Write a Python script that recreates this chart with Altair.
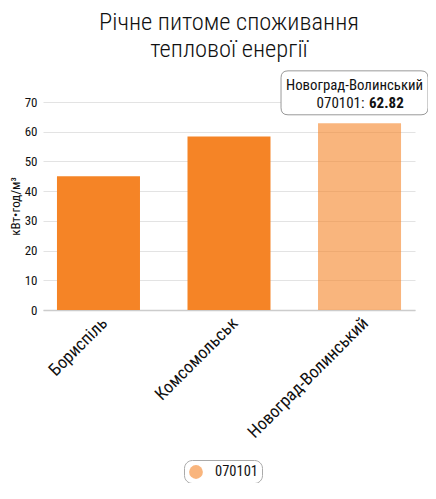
import altair as alt
import pandas as pd

cities = ["Бориспіль", "Комсомольськ", "Новоград-Волинський"]
values = [45.0, 58.4, 62.82]
series = "070101"
highlight = "Новоград-Волинський"
y_ticks = [0, 10, 20, 30, 40, 50, 60, 70]

df = pd.DataFrame({"city": cities, "value": values, "series": [series] * len(cities)})

FONT = "Roboto Condensed, DejaVu Sans Condensed, sans-serif"
DARK = "#F58426"

xenc = alt.X(
    "city:N",
    sort=cities,
    title=None,
    scale=alt.Scale(paddingInner=0.364, paddingOuter=0.107),
    axis=alt.Axis(labelAngle=-45, labelFontSize=17.5, labelColor="#111", labelPadding=4,
                  ticks=False, domainColor="#cccccc", domainWidth=1.5, labelFont=FONT),
)
yenc = alt.Y(
    "value:Q",
    scale=alt.Scale(domain=[0, 70]),
    axis=alt.Axis(values=y_ticks, title="кВт•год/м³", titleFontSize=13, titleFontWeight="normal",
                  titleColor="#111", titlePadding=2, labelFontSize=13, labelColor="#111",
                  labelPadding=6, ticks=False, domain=False, gridColor="#e3e3e3",
                  labelFont=FONT, titleFont=FONT),
)

base = alt.Chart(df)

bars = base.mark_bar().encode(
    x=xenc,
    y=yenc,
    color=alt.Color(
        "series:N",
        scale=alt.Scale(range=[DARK]),
        legend=alt.Legend(
            title=None, orient="none", legendX=141, legendY=358, symbolType="circle",
            symbolSize=190, symbolOpacity=0.6, labelFontSize=14.5, labelFont=FONT,
            labelColor="#111", strokeColor="#aaaaaa", cornerRadius=8, padding=4,
            fillColor="white", labelOffset=11,
        ),
    ),
    opacity=alt.condition(alt.datum.city == highlight, alt.value(0.6), alt.value(1.0)),
)

hl = base.transform_filter(alt.datum.city == highlight)

box_path = ("M -0.905,-0.299 L 0.905,-0.299 Q 1,-0.299 1,-0.204 L 1,0.204 Q 1,0.299 0.905,0.299 "
            "L -0.905,0.299 Q -1,0.299 -1,0.204 L -1,-0.204 Q -1,-0.299 -0.905,-0.299 Z")

box = hl.mark_point(shape=box_path, size=147 * 147, filled=True, fill="white", stroke="#999999",
                    strokeWidth=1, opacity=1, yOffset=-30.5, xOffset=-5).encode(x=xenc, y=yenc)

line1 = hl.mark_text(yOffset=-37.5, dx=-5, fontSize=14.8, font=FONT, color="#111").encode(
    x=xenc, y=yenc, text="city:N")
line2a = hl.transform_calculate(lbl="datum.series + ':'").mark_text(
    yOffset=-20, dx=5, align="right", fontSize=15, font=FONT, color="#111"
).encode(x=xenc, y=yenc, text="lbl:N")
line2b = hl.mark_text(yOffset=-20, dx=9.5, align="left", fontSize=15, font=FONT,
                      fontWeight="bold", color="#111").encode(
    x=xenc, y=yenc, text=alt.Text("value:Q", format=".2f"))

chart = alt.layer(bars, box, line1, line2a, line2b).properties(
    width=372,
    height=208,
    title=alt.TitleParams(
        ["Річне питоме споживання", "теплової енергії"], fontSize=24.5, font=FONT,
        fontWeight=300, color="#111", lineHeight=27, offset=6.5, anchor="middle",
    ),
    autosize=alt.AutoSizeParams(type="none"),
    padding={"left": 35, "top": 94, "right": 13, "bottom": 173},
).configure_view(stroke=None)

chart.save("out.html", embed_options={"renderer": "svg", "actions": False})
